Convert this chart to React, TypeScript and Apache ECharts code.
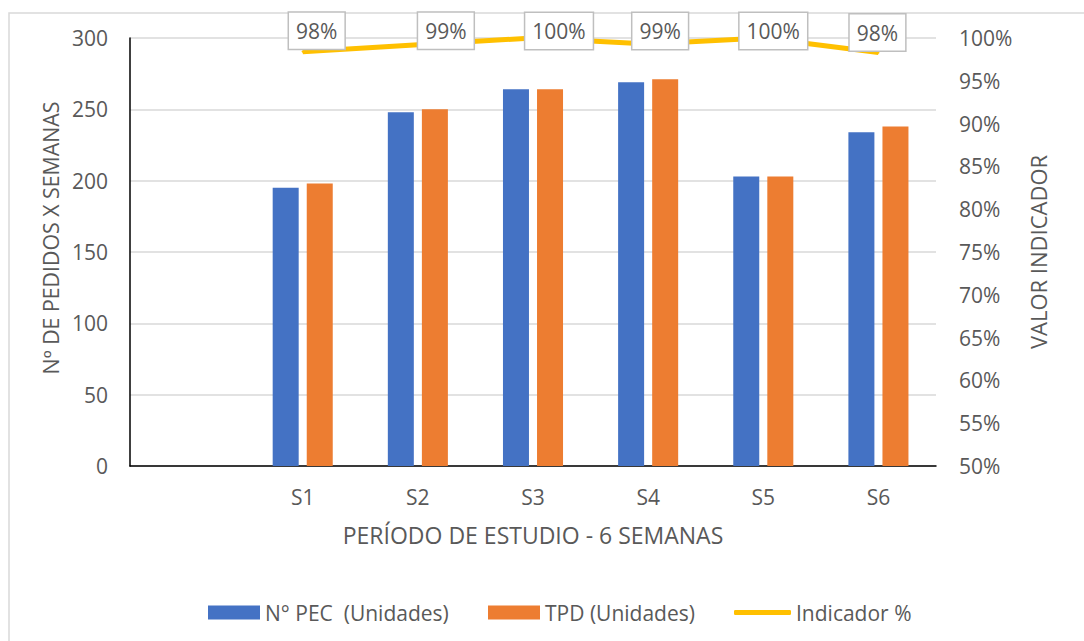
import React, { useEffect, useRef } from "react";
import * as echarts from "echarts";

// Weeks of the study period (the first slot is left empty on purpose)
const weeks: string[] = ["", "S1", "S2", "S3", "S4", "S5", "S6"];

// Orders per week
const pecUnits: (number | null)[] = [null, 195, 248, 264, 269, 203, 234];
const tpdUnits: (number | null)[] = [null, 198, 250, 264, 271, 203, 238];

// Indicator value per week (fraction)
const indicator: (number | null)[] = [null, 0.984, 0.992, 1.0, 0.993, 1.0, 0.983];

// Left axis ticks and right axis ticks
const leftTicks = { min: 0, max: 300, step: 50 };
const rightTicks = { min: 0.5, max: 1, step: 0.05 };

// Hand-placed label nudges for the indicator boxes
const labelNudge: [number, number][] = [
  [0, 0],
  [14, -21],
  [28, -14],
  [26, -7],
  [12, -13],
  [10, -7],
  [-1, -20],
];

const FONT = "'Open Sans', Lato, sans-serif";
const GREY_TEXT = "#595959";

export default function App() {
  const ref = useRef<HTMLDivElement>(null);

  useEffect(() => {
    if (!ref.current) return;
    const chart = echarts.init(ref.current, undefined, { renderer: "svg" });

    const pct = (v: number) => Math.round(v * 100) + "%";

    const lineData = indicator.map((v, i) =>
      v == null
        ? null
        : {
            value: v,
            label: { offset: labelNudge[i] },
          }
    );

    const legendText = { fontFamily: FONT, fontSize: 21, color: GREY_TEXT, lineHeight: 14 };

    chart.setOption({
      animation: false,
      backgroundColor: "#ffffff",
      textStyle: { fontFamily: FONT, color: GREY_TEXT },
      graphic: [
        {
          type: "rect",
          shape: { x: 9, y: 13, width: 1100, height: 660 },
          style: { fill: "none", stroke: "#d9d9d9", lineWidth: 1.5 },
          silent: true,
          z: -10,
        },
        {
          type: "text",
          x: 50,
          y: 238,
          rotation: Math.PI / 2,
          style: {
            text: "Nº DE PEDIDOS X SEMANAS",
            fontFamily: FONT,
            fontSize: 21.3,
            fill: GREY_TEXT,
            textAlign: "center",
            verticalAlign: "middle",
          },
        },
        {
          type: "text",
          x: 1038,
          y: 252,
          rotation: Math.PI / 2,
          style: {
            text: "VALOR INDICADOR",
            fontFamily: FONT,
            fontSize: 22,
            fill: GREY_TEXT,
            textAlign: "center",
            verticalAlign: "middle",
          },
        },
      ],
      grid: { left: 130, right: 148, top: 38, bottom: 175, containLabel: false },
      legend: [
        {
          left: 208,
          top: 602,
          padding: 0,
          itemWidth: 52,
          itemHeight: 14,
          data: [{ name: "N° PEC  (Unidades)", icon: "rect" }],
          textStyle: legendText,
        },
        {
          left: 488,
          top: 602,
          padding: 0,
          itemWidth: 52,
          itemHeight: 14,
          data: [{ name: "TPD (Unidades)", icon: "rect" }],
          textStyle: legendText,
        },
        {
          left: 734,
          top: 602,
          padding: 0,
          itemWidth: 57,
          itemHeight: 5,
          data: [{ name: "Indicador %", icon: "roundRect", itemStyle: { color: "#FFC000" } }],
          textStyle: legendText,
        },
      ],
      xAxis: {
        type: "category",
        data: weeks,
        boundaryGap: true,
        name: "PERÍODO DE ESTUDIO - 6 SEMANAS",
        nameLocation: "middle",
        nameGap: 57,
        nameTextStyle: { fontFamily: FONT, fontSize: 23, color: GREY_TEXT, verticalAlign: "top" },
        axisLine: { show: true, lineStyle: { color: "#000000", width: 1.5 } },
        axisTick: { show: false },
        axisLabel: { margin: 20, fontFamily: FONT, fontSize: 21, color: GREY_TEXT },
      },
      yAxis: [
        {
          type: "value",
          min: leftTicks.min,
          max: leftTicks.max,
          interval: leftTicks.step,
          axisLine: { show: true, lineStyle: { color: "#000000", width: 1.5 } },
          axisTick: { show: false },
          splitLine: { show: true, lineStyle: { color: "#d9d9d9", width: 1.5 } },
          axisLabel: { margin: 22, fontFamily: FONT, fontSize: 21, color: GREY_TEXT },
        },
        {
          type: "value",
          min: rightTicks.min,
          max: rightTicks.max,
          interval: rightTicks.step,
          axisLine: { show: false },
          axisTick: { show: false },
          splitLine: { show: false },
          axisLabel: {
            margin: 23,
            fontFamily: FONT,
            fontSize: 21,
            color: GREY_TEXT,
            formatter: (v: number) => pct(v),
          },
        },
      ],
      series: [
        {
          name: "N° PEC  (Unidades)",
          type: "bar",
          data: pecUnits,
          barWidth: 26,
          barGap: "31%",
          itemStyle: { color: "#4472C4" },
        },
        {
          name: "TPD (Unidades)",
          type: "bar",
          data: tpdUnits,
          barWidth: 26,
          barGap: "31%",
          itemStyle: { color: "#ED7D31" },
        },
        {
          name: "Indicador %",
          type: "line",
          yAxisIndex: 1,
          data: lineData,
          symbol: "circle",
          symbolSize: 2,
          showSymbol: true,
          clip: false,
          z: 5,
          lineStyle: { color: "#FFC000", width: 5 },
          itemStyle: { color: "#FFC000" },
          label: {
            show: true,
            position: "inside",
            formatter: (p: any) => pct(p.value),
            fontFamily: FONT,
            fontSize: 21,
            color: GREY_TEXT,
            backgroundColor: "#ffffff",
            borderColor: "#bfbfbf",
            borderWidth: 1.5,
            padding: [6, 7, 6, 7],
            lineHeight: 24,
          },
        },
      ],
    });

    return () => chart.dispose();
  }, []);

  return (
    <div
      ref={ref}
      style={{ position: "fixed", left: 0, top: 0, width: 1084, height: 641 }}
    />
  );
}
